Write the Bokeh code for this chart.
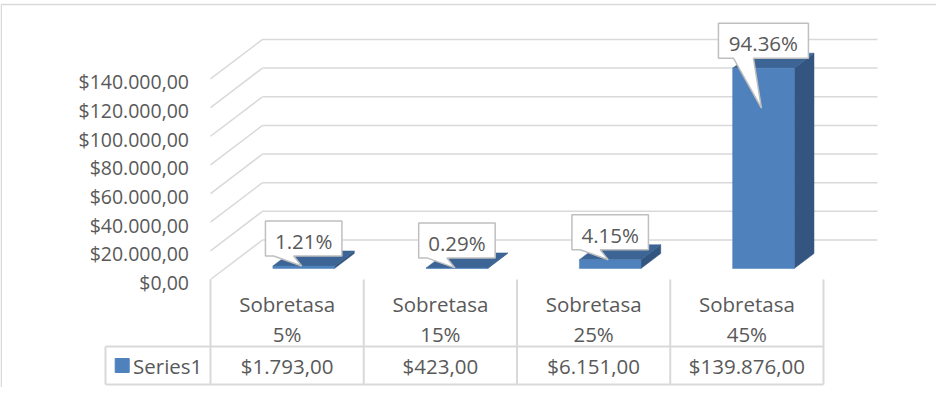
from bokeh.plotting import figure
from bokeh.models import Range1d
from bokeh.core.properties import value
from bokeh.embed import file_html
from bokeh.resources import INLINE

# ---------------- data ----------------
cat_line1 = ["Sobretasa", "Sobretasa", "Sobretasa", "Sobretasa"]
cat_line2 = ["5%", "15%", "25%", "45%"]
series_name = "Series1"
values = [1793, 423, 6151, 139876]
value_labels = ["$1.793,00", "$423,00", "$6.151,00", "$139.876,00"]
y_ticks = [0, 20000, 40000, 60000, 80000, 100000, 120000, 140000]
y_tick_labels = ["$0,00", "$20.000,00", "$40.000,00", "$60.000,00",
                 "$80.000,00", "$100.000,00", "$120.000,00", "$140.000,00"]

total = sum(values)
pct_labels = [f"{v / total * 100:.2f}%" for v in values]

# ---------------- layout (pixels) ----------------
W, H = 936, 387
FX0, FY0 = 210, 279          # front-left floor corner in figure pixels
CAT_PX = 153.25              # px per category
PX_PER_VAL = 28.65 / 20000   # px per value unit

def xu(px):
    return px / CAT_PX

def yu(px):
    return px / PX_PER_VAL

def xpos(px):
    return (px - FX0) / CAT_PX

def ypos(py):
    return (FY0 - py) / PX_PER_VAL

DX, DY = xu(52), yu(39.5)    # full depth of the 3D floor
D0, D1 = 0.278, 0.658        # bar depth (front, back)
BW = xu(61.6)
BAR_OFF = 0.0137

TEXT = "#595959"
GRID = "#d9d9d9"
FRONT = "#4f81bd"
TOP = "#3c6494"
SIDE = "#34557f"
CALL = "#bfbfbf"
FONT = value("Open Sans")

p = figure(width=W, height=H, output_backend="svg", toolbar_location=None,
           x_axis_type=None, y_axis_type=None, min_border=0,
           x_range=Range1d(xpos(0), xpos(W)), y_range=Range1d(ypos(H), ypos(0)))
p.outline_line_color = None
p.background_fill_color = "white"
p.border_fill_color = "white"

n = len(values)

# chart frame border (top + left)
p.line([xpos(0.75), xpos(0.75), xpos(W)], [ypos(H), ypos(4), ypos(4)],
       line_color=GRID, line_width=1.5)

# back wall gridlines
p.multi_line([[DX, n + DX + xu(2)] for v in y_ticks],
             [[v + DY, v + DY] for v in y_ticks], line_color=GRID, line_width=1.5)
# side wall diagonals
p.multi_line([[0, DX] for v in y_ticks],
             [[v, v + DY] for v in y_ticks], line_color=GRID, line_width=1.5)

# y tick labels
p.text(x=[-xu(21.5)] * len(y_ticks), y=[v - yu(3.0) for v in y_ticks], text=y_tick_labels,
       text_align="right", text_baseline="middle", text_color=TEXT,
       text_font=FONT, text_font_size=value("19.5px"))

# 3D bars
ddx, ddy = (D1 - D0) * DX, (D1 - D0) * DY
lefts = [i + 0.5 + BAR_OFF - BW / 2 + D0 * DX for i in range(n)]
rights = [l + BW for l in lefts]
bottom = D0 * DY
tops = [bottom + v for v in values]

p.patches([[r, r, r + ddx, r + ddx] for r in rights],
          [[bottom, t, t + ddy, bottom + ddy] for t in tops],
          fill_color=SIDE, line_color=SIDE, line_width=0.5)
p.patches([[l, r, r + ddx, l + ddx] for l, r in zip(lefts, rights)],
          [[t, t, t + ddy, t + ddy] for t in tops],
          fill_color=TOP, line_color=TOP, line_width=0.5)
p.quad(left=lefts, right=rights, bottom=[bottom] * n, top=tops,
       fill_color=FRONT, line_color=FRONT, line_width=0.5)

# data callouts
TIP_CAP = 112000
BOX_H = yu(35)
GAP = yu(10)
cxs, cys, xs, ys = [], [], [], []
for i, (v, lab) in enumerate(zip(values, pct_labels)):
    cx = (lefts[i] + rights[i]) / 2
    bw = xu(13.5 * len(lab) + 9)
    yb = tops[i] + GAP
    yt = yb + BOX_H
    tipx = cx - xu(2)
    tipy = bottom + min(v, TIP_CAP)
    L, R = cx - bw / 2, cx + bw / 2
    xs.append([L, R, R, cx - xu(10), tipx, cx - xu(30), L])
    ys.append([yt, yt, yb, yb, tipy, yb, yb])
    cxs.append(cx)
    cys.append((yb + yt) / 2 - yu(2.5))
p.patches(xs, ys, fill_color="white", line_color=CALL, line_width=1.5)
p.text(x=cxs, y=cys, text=pct_labels, text_align="center", text_baseline="middle",
       text_color=TEXT, text_font=FONT, text_font_size=value("20.5px"))

# data table
TBL_ROW = 346
TBL_BOT = 384
TBL_LEFT = 105
p.multi_line([[i, i] for i in range(n + 1)] + [[xpos(TBL_LEFT), xpos(TBL_LEFT)]],
             [[ypos(FY0), ypos(TBL_BOT)] for i in range(n + 1)] + [[ypos(TBL_ROW), ypos(TBL_BOT)]],
             line_color=GRID, line_width=2)
p.multi_line([[xpos(TBL_LEFT), n], [xpos(TBL_LEFT), n]],
             [[ypos(TBL_ROW), ypos(TBL_ROW)], [ypos(TBL_BOT), ypos(TBL_BOT)]],
             line_color=GRID, line_width=2)

centers = [i + 0.5 for i in range(n)]
p.text(x=centers, y=[ypos(303.7)] * n, text=cat_line1, text_align="center",
       text_baseline="middle", text_color=TEXT, text_font=FONT,
       text_font_size=value("20.5px"))
p.text(x=centers, y=[ypos(333.7)] * n, text=cat_line2, text_align="center",
       text_baseline="middle", text_color=TEXT, text_font=FONT,
       text_font_size=value("20.5px"))
p.text(x=centers, y=[ypos(365.5)] * n, text=value_labels, text_align="center",
       text_baseline="middle", text_color=TEXT, text_font=FONT,
       text_font_size=value("20.5px"))

# legend key + series name
p.scatter(x=[xpos(121.7)], y=[ypos(365)], marker="square", size=14,
          fill_color=FRONT, line_color=FRONT)
p.text(x=[xpos(132.5)], y=[ypos(365.5)], text=[series_name], text_align="left",
       text_baseline="middle", text_color=TEXT, text_font=FONT,
       text_font_size=value("20.5px"))

open("out.html", "w").write(file_html(p, INLINE))
